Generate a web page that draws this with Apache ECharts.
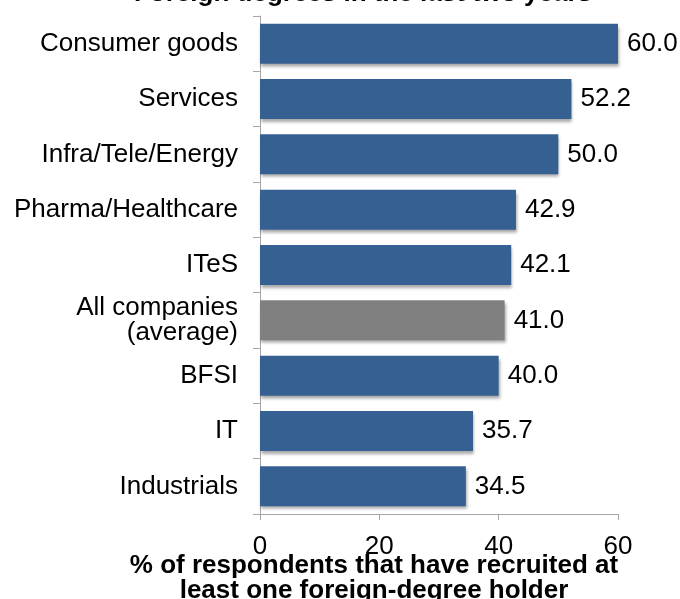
<!DOCTYPE html>
<html>
<head>
<meta charset="utf-8">
<script src="https://cdn.jsdelivr.net/npm/echarts@6/dist/echarts.min.js"></script>
<style>html,body{margin:0;padding:0;background:#fff}#c{width:680px;height:599px}</style>
</head>
<body>
<div id="c"></div>
<script>
var categories = ["Consumer goods", "Services", "Infra/Tele/Energy", "Pharma/Healthcare", "ITeS", "All companies\n(average)", "BFSI", "IT", "Industrials"];
var values = [60.0, 52.2, 50.0, 42.9, 42.1, 41.0, 40.0, 35.7, 34.5];
var highlightCategory = "All companies\n(average)";
var xTicks = [0, 20, 40, 60];
var titleText = "Foreign degrees in the last two years";
var axisTitle = "% of respondents that have recruited at\nleast one foreign-degree holder";

var chart = echarts.init(document.getElementById('c'), null, {renderer: 'canvas'});
var font = "'Liberation Sans', Arial, sans-serif";
var barData = values.map(function (v, i) {
  return {
    value: v,
    itemStyle: { color: categories[i] === highlightCategory ? '#808080' : '#376092' }
  };
});
chart.setOption({
  animation: false,
  title: {
    text: titleText,
    left: 358, textAlign: 'center',
    top: -24,
    textStyle: { fontFamily: font, fontSize: 26, fontWeight: 'bold', color: '#000' }
  },
  grid: { left: 260, right: 62, top: 16, bottom: 85, containLabel: false, outerBoundsMode: 'none' },
  xAxis: {
    type: 'value', min: 0, max: 60, interval: 20,
    axisLine: { show: true, lineStyle: { color: '#a6a6a6', width: 1 } },
    axisTick: { show: true, length: 6, lineStyle: { color: '#a6a6a6' } },
    splitLine: { show: false },
    axisLabel: { fontFamily: font, fontSize: 26, color: '#000', margin: 20,
      formatter: function (v) { return xTicks.indexOf(v) >= 0 ? String(v) : ''; } },
    name: axisTitle,
    nameLocation: 'middle',
    nameGap: 39,
    nameMoveOverlap: false,
    nameTextStyle: { fontFamily: font, fontSize: 26, fontWeight: 'bold', color: '#000', lineHeight: 25, verticalAlign: 'top', padding: [0, 130, 0, 0] }
  },
  yAxis: {
    type: 'category', data: categories, inverse: true,
    axisLine: { show: true, lineStyle: { color: '#a6a6a6', width: 1 } },
    axisTick: { show: true, length: 7, lineStyle: { color: '#a6a6a6' } },
    axisLabel: { fontFamily: font, fontSize: 26, color: '#000', margin: 22, lineHeight: 25, align: 'right' }
  },
  series: [{
    type: 'bar', data: barData, barWidth: 40,
    itemStyle: { shadowColor: 'rgba(0,0,0,0.35)', shadowBlur: 3, shadowOffsetX: 1, shadowOffsetY: 3 },
    label: { show: true, position: 'right', distance: 9, fontFamily: font, fontSize: 26, color: '#000',
      formatter: function (p) { return p.value.toFixed(1); } }
  }]
});
</script>
</body>
</html>
